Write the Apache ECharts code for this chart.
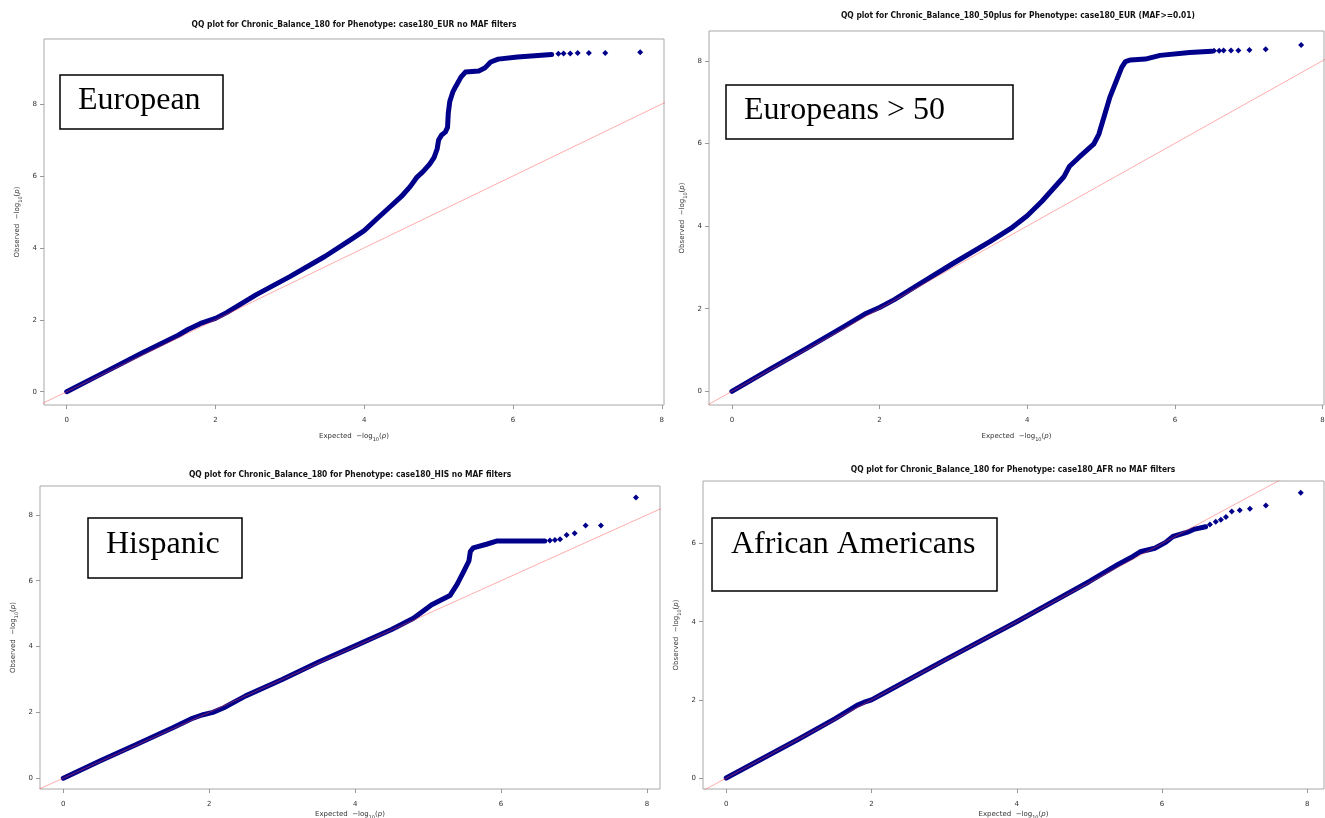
<!DOCTYPE html>
<html>
<head>
<meta charset="utf-8">
<script src="https://cdn.jsdelivr.net/npm/echarts@6/dist/echarts.min.js"></script>
<style>
  html, body { margin: 0; padding: 0; background: #fff; }
  #main { width: 1325px; height: 818px; }
</style>
</head>
<body>
<div id="main"></div>
<script>
// tick labels shared by all panels
const tickValues = [0, 2, 4, 6, 8];

// reference line y = x
const diagonal = [[-1, -1], [10, 10]];

// European (dense band, then the sparse top points)
const eurDense = [[0,0],[0.5,0.53],[1,1.06],[1.5,1.57],[1.63,1.73],[1.8,1.9],[1.9,1.97],[2.0,2.04],[2.15,2.2],[2.55,2.7],[3,3.2],[3.47,3.76],[3.82,4.23],[4,4.48],[4.16,4.79],[4.33,5.11],[4.5,5.43],[4.62,5.71],[4.71,5.97],[4.79,6.12],[4.88,6.33],[4.94,6.52],[4.98,6.75],[5.0,7.0],[5.04,7.14],[5.09,7.22],[5.12,7.35],[5.13,7.75],[5.15,8.07],[5.19,8.33],[5.23,8.49],[5.3,8.75],[5.36,8.89],[5.54,8.92],[5.62,9.0],[5.7,9.17],[5.8,9.25],[6.06,9.31],[6.52,9.38]];
const eurTail = [[6.61,9.4],[6.68,9.41],[6.77,9.41],[6.87,9.42],[7.02,9.42],[7.24,9.42],[7.71,9.44]];

// Europeans > 50
const eur50Dense = [[0,0],[0.5,0.52],[1,1.03],[1.5,1.55],[1.8,1.87],[1.9,1.95],[2.0,2.03],[2.2,2.22],[2.5,2.55],[3,3.1],[3.5,3.63],[3.8,3.97],[4,4.25],[4.2,4.6],[4.4,5.0],[4.5,5.2],[4.57,5.44],[4.7,5.66],[4.9,5.98],[4.97,6.22],[5.05,6.7],[5.12,7.12],[5.2,7.48],[5.28,7.84],[5.33,7.98],[5.4,8.02],[5.6,8.04],[5.8,8.13],[6.2,8.2],[6.5,8.23]];
const eur50Tail = [[6.53,8.24],[6.6,8.24],[6.66,8.25],[6.76,8.25],[6.86,8.25],[7.01,8.26],[7.23,8.28],[7.71,8.38]];

// Hispanic
const hisDense = [[0,0],[0.5,0.52],[1,1.02],[1.5,1.53],[1.75,1.8],[1.9,1.92],[2.05,2.0],[2.2,2.14],[2.5,2.5],[3,3.0],[3.5,3.53],[4,4.02],[4.5,4.52],[4.8,4.86],[5.05,5.27],[5.3,5.55],[5.4,5.9],[5.5,6.33],[5.56,6.6],[5.58,6.89],[5.62,7.0],[5.8,7.11],[5.95,7.21],[6.6,7.21]];
const hisTail = [[6.67,7.22],[6.74,7.24],[6.81,7.26],[6.9,7.39],[7.01,7.44],[7.16,7.68],[7.37,7.68],[7.85,8.53]];

// African Americans
const afrDense = [[0,0],[0.5,0.5],[1,1.0],[1.5,1.52],[1.8,1.86],[1.9,1.94],[2,2.0],[2.2,2.2],[3,3.01],[4,4.0],[5,5.03],[5.4,5.47],[5.6,5.67],[5.7,5.79],[5.9,5.88],[6.05,6.03],[6.15,6.18],[6.35,6.29],[6.45,6.37],[6.6,6.43]];
const afrTail = [[6.66,6.49],[6.74,6.56],[6.81,6.61],[6.88,6.68],[6.96,6.82],[7.07,6.85],[7.21,6.89],[7.43,6.97],[7.91,7.3]];

const panels = [
  {
    title: 'QQ plot for Chronic_Balance_180 for Phenotype: case180_EUR no MAF filters',
    titleX: 349, titleY: 16,
    grid: { left: 44, top: 39, width: 620, height: 366 },
    xRange: [-0.305, 8.03], yRange: [-0.37, 9.81], xNameGap: 26,
    dense: eurDense, tail: eurTail,
    label: 'European', box: [60, 75, 163, 54], textX: 78, textY: 101
  },
  {
    title: 'QQ plot for Chronic_Balance_180_50plus for Phenotype: case180_EUR (MAF>=0.01)',
    titleX: 1013, titleY: 7,
    grid: { left: 709, top: 31, width: 615, height: 374 },
    xRange: [-0.31, 8.02], yRange: [-0.33, 8.72], xNameGap: 26,
    dense: eur50Dense, tail: eur50Tail,
    label: 'Europeans > 50', box: [726, 85, 287, 54], textX: 744, textY: 111
  },
  {
    title: 'QQ plot for Chronic_Balance_180 for Phenotype: case180_HIS no MAF filters',
    titleX: 345, titleY: 466,
    grid: { left: 40, top: 486, width: 620, height: 303 },
    xRange: [-0.32, 8.18], yRange: [-0.33, 8.88], xNameGap: 19,
    dense: hisDense, tail: hisTail,
    label: 'Hispanic', box: [88, 518, 154, 60], textX: 106, textY: 545
  },
  {
    title: 'QQ plot for Chronic_Balance_180 for Phenotype: case180_AFR no MAF filters',
    titleX: 1008, titleY: 461,
    grid: { left: 703, top: 481, width: 621, height: 308 },
    xRange: [-0.32, 8.23], yRange: [-0.28, 7.6], xNameGap: 19,
    dense: afrDense, tail: afrTail,
    label: 'African Americans', box: [712, 518, 285, 73], textX: 731, textY: 545
  }
];

const axisFont = 'DejaVu Sans';
const nameRich = {
  s: { fontSize: 5, fontFamily: axisFont, color: '#333', verticalAlign: 'bottom', lineHeight: 11 },
  i: { fontSize: 7, fontFamily: axisFont, fontStyle: 'italic', color: '#333', lineHeight: 11 }
};

function makeAxis(range, name, gap, margin) {
  return {
    type: 'value',
    min: range[0],
    max: range[1],
    name: name,
    nameLocation: 'middle',
    nameGap: gap,
    nameTextStyle: { fontSize: 7, fontFamily: axisFont, color: '#333', lineHeight: 11, rich: nameRich },
    axisLine: { show: false, onZero: false },
    splitLine: { show: false },
    axisTick: { show: true, length: 4, customValues: tickValues, lineStyle: { color: '#999' } },
    axisLabel: { customValues: tickValues, fontSize: 7, fontFamily: axisFont, color: '#333', margin: margin }
  };
}

const grids = [], xAxes = [], yAxes = [], series = [], titles = [], graphics = [];

panels.forEach((p, i) => {
  grids.push(Object.assign({
    show: true, borderColor: '#a8a8a8', borderWidth: 1, backgroundColor: '#fff',
    containLabel: false, outerBoundsMode: 'none'
  }, p.grid));
  xAxes.push(Object.assign({ gridIndex: i }, makeAxis(p.xRange, 'Expected  \u2212log{s|10}({i|p})', p.xNameGap, 12)));
  yAxes.push(Object.assign({ gridIndex: i }, makeAxis(p.yRange, 'Observed  \u2212log{s|10}({i|p})', 21, 7)));

  series.push({
    type: 'line', xAxisIndex: i, yAxisIndex: i,
    data: p.dense, showSymbol: false, smooth: false, animation: false,
    lineStyle: { color: '#00008b', width: 5, cap: 'round', join: 'round' },
    z: 2
  });
  series.push({
    type: 'scatter', xAxisIndex: i, yAxisIndex: i,
    data: p.tail, symbol: 'diamond', symbolSize: 6, animation: false,
    itemStyle: { color: '#00008b', opacity: 1 },
    z: 2
  });
  series.push({
    type: 'line', xAxisIndex: i, yAxisIndex: i,
    data: diagonal, showSymbol: false, animation: false, clip: true,
    lineStyle: { color: 'rgba(255, 70, 70, 0.45)', width: 1 },
    z: 3
  });

  titles.push({
    text: p.title, left: p.titleX, top: p.titleY, textAlign: 'center',
    textStyle: { fontSize: 8.4, fontWeight: 'bold', fontFamily: 'DejaVu Sans Condensed', color: '#111' }
  });

  graphics.push({
    type: 'rect',
    shape: { x: p.box[0], y: p.box[1], width: p.box[2], height: p.box[3] },
    style: { fill: '#fff', stroke: '#000', lineWidth: 1.5 },
    z: 10
  });
  graphics.push({
    type: 'text',
    x: p.textX, y: p.textY,
    style: { text: p.label, font: '32px "Liberation Serif"', fill: '#000', verticalAlign: 'middle' },
    z: 11
  });
});

const chart = echarts.init(document.getElementById('main'), null, { renderer: 'canvas' });
chart.setOption({
  backgroundColor: '#fff',
  animation: false,
  title: titles,
  grid: grids,
  xAxis: xAxes,
  yAxis: yAxes,
  series: series,
  graphic: graphics
});
</script>
</body>
</html>
